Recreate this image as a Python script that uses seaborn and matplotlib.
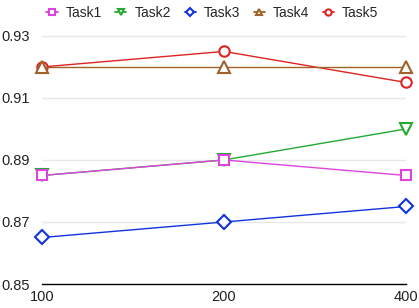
import pandas as pd
import numpy as np
import matplotlib
matplotlib.use("Agg")
import matplotlib.pyplot as plt
import seaborn as sns

# values
sizes = ["100", "200", "400"]
tasks = ["Task1", "Task2", "Task3", "Task4", "Task5"]
task1 = [0.885, 0.890, 0.885]
task2 = [0.885, 0.890, 0.900]
task3 = [0.865, 0.870, 0.875]
task4 = [0.920, 0.920, 0.920]
task5 = [0.920, 0.925, 0.915]
yticks = [0.85, 0.87, 0.89, 0.91, 0.93]

colors = {"Task1": "#dd44dd", "Task2": "#22aa33", "Task3": "#1133dd",
          "Task4": "#a0622a", "Task5": "#e02222"}
markers = {"Task1": "s", "Task2": "v", "Task3": "D", "Task4": "^", "Task5": "o"}
msize = {"Task1": 7, "Task2": 8.5, "Task3": 7.5, "Task4": 8.5, "Task5": 7.5}

rows = []
for name, vals in zip(tasks, [task1, task2, task3, task4, task5]):
    for i, v in enumerate(vals):
        rows.append({"pos": i, "size": sizes[i], "task": name, "value": v})
df = pd.DataFrame(rows)

sns.set_style("white")
plt.rcParams["font.family"] = ["Liberation Sans", "DejaVu Sans"]

fig = plt.figure(figsize=(4.19, 3.08), dpi=100)
ax = fig.add_axes([42 / 419, 1 - 284 / 308, (406 - 42) / 419, (284 - 22) / 308])

# draw in reverse so Task1 sits on top of Task2, Task4 on top of Task5
for k, name in enumerate(reversed(tasks)):
    sub = df[df["task"] == name]
    sns.lineplot(data=sub, x="pos", y="value", ax=ax, color=colors[name],
                 marker=markers[name], markersize=msize[name],
                 markerfacecolor="white", markeredgecolor=colors[name],
                 markeredgewidth=1.5, linewidth=1.0, clip_on=False,
                 zorder=3 + k, label=name, legend=False)

ax.set_xlim(0, 2)
ax.set_ylim(0.85, 0.9345)
ax.set_xticks(range(len(sizes)))
ax.set_xticklabels(sizes)
ax.set_yticks(yticks)
ax.set_yticklabels([f"{t:.2f}" for t in yticks])
ax.set_xlabel("")
ax.set_ylabel("")
ax.tick_params(axis="both", length=0, labelsize=10.5, colors="#222222")
ax.tick_params(axis="y", pad=9)
ax.tick_params(axis="x", pad=4)
ax.grid(axis="y", color="#e8e8e8", linewidth=1)
for side in ["left", "right", "top"]:
    ax.spines[side].set_visible(False)
ax.spines["bottom"].set_color("black")
ax.spines["bottom"].set_linewidth(1)

handles = [plt.Line2D([], [], color=colors[n], marker=markers[n], markersize=4.5,
                      markerfacecolor="white", markeredgewidth=1.5, linewidth=1.3)
           for n in tasks]
fig.legend(handles, tasks, loc="upper center", bbox_to_anchor=(0.507, 0.998), ncol=5,
           frameon=False, fontsize=10, handlelength=0.8, handletextpad=0.6,
           columnspacing=0.95, borderaxespad=0)

fig.savefig("out.png", dpi=100)
